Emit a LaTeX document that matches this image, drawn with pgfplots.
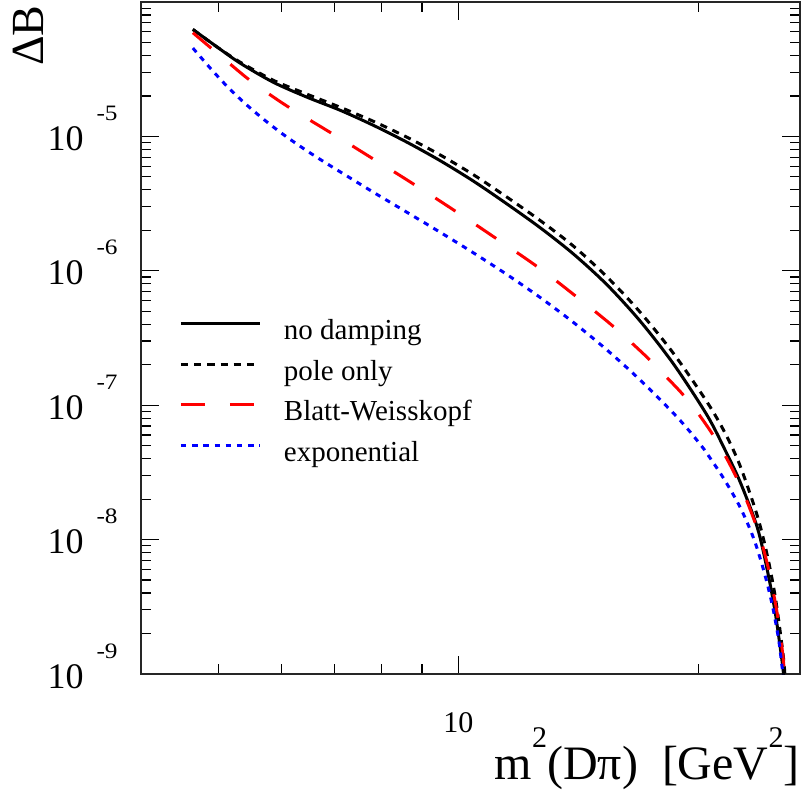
\documentclass[border=0pt]{standalone}
\usepackage{fontspec}
\setmainfont{Liberation Serif}
\usepackage{graphicx}
\usepackage{pgfplots}
\pgfplotsset{compat=1.18}
\newcommand{\yl}[1]{10\hspace{6.5pt}\raisebox{15pt}{\scalebox{1.15}[1]{\fontsize{11}{11}\selectfont #1}}}
\newcommand{\sq}{\raisebox{16pt}{\fontsize{15}{15}\selectfont 2}}
\begin{document}
\begin{tikzpicture}
\begin{axis}[
  scale only axis, width=329.5pt, height=336pt,
  xmode=log, ymode=log,
  xmin=4, xmax=26.8, ymin=1e-9, ymax=1e-4,
  axis line style={line width=1pt, black!85},
  tick align=inside,
  major tick length=9pt, minor tick length=5pt,
  every tick/.style={black, line width=0.6pt},
  xtick={10}, xticklabels={10},
  minor xtick={4,5,6,7,8,9,20},
  ytick={1e-9,1e-8,1e-7,1e-6,1e-5},
  yticklabels={\yl{-9},\yl{-8},\yl{-7},\yl{-6},\yl{-5}},
  minor ytick={2e-9,3e-9,4e-9,5e-9,6e-9,7e-9,8e-9,9e-9,
               2e-8,3e-8,4e-8,5e-8,6e-8,7e-8,8e-8,9e-8,
               2e-7,3e-7,4e-7,5e-7,6e-7,7e-7,8e-7,9e-7,
               2e-6,3e-6,4e-6,5e-6,6e-6,7e-6,8e-6,9e-6,
               2e-5,3e-5,4e-5,5e-5,6e-5,7e-5,8e-5,9e-5},
  xticklabel style={font=\fontsize{15}{15}\selectfont, anchor=base, inner sep=0pt, yshift=-29pt},
  yticklabel style={font=\fontsize{18}{18}\selectfont, anchor=base east, inner sep=0pt, xshift=-11.5pt, yshift=-7pt},
  xlabel={m\sq(Dπ)\hspace{0.5em}[GeV\sq]},
  xlabel style={at={(rel axis cs:1,-0.1577)}, anchor=base east, inner sep=0pt, font=\fontsize{24}{24}\selectfont},
  ylabel={ΔB},
  ylabel style={at={(rel axis cs:-0.148,0.9955)}, anchor=base east, inner sep=0pt, font=\fontsize{23}{23}\selectfont},
  legend style={at={(0.0577,0.5283)}, anchor=north west, draw=none, fill=none, inner sep=0pt,
    font=\fontsize{14.5}{14.5}\selectfont, row sep=7.35pt,
    nodes={inner sep=0pt, text height=10pt, text depth=3pt}},
  legend cell align=left,
  legend image code/.code={\draw[#1] (0pt,4.5pt) -- (39.5pt,4.5pt); \path[draw=none,fill=none] (51.5pt,4.5pt) circle (0pt);},
]
\addplot[black, line width=1.5pt, smooth, tension=0.5] coordinates {
(4.646,6.252e-5) (4.990,4.596e-5) (5.332,3.493e-5) (5.865,2.522e-5) (6.469,1.951e-5)
(7.115,1.561e-5) (7.824,1.209e-5) (8.623,9.04e-6) (9.494,6.58e-6) (10.45,4.634e-6)
(11.51,3.135e-6) (12.67,2.085e-6) (13.95,1.327e-6) (15.36,7.853e-7) (16.90,4.217e-7)
(18.61,2.021e-7) (20.49,8.44e-8) (21.60,4.609e-8) (22.56,2.665e-8) (23.69,1.233e-8)
(24.39,5.899e-9) (24.96,2.825e-9) (25.47,1.199e-9) (25.54,1e-9) (25.58,5e-10)};
\addlegendentry{no damping}
\addplot[black, line width=1.5pt, dash pattern=on 3.6pt off 3pt, smooth, tension=0.5] coordinates {
(4.646,6.252e-5) (4.990,4.596e-5) (5.332,3.553e-5) (5.865,2.610e-5) (6.469,2.054e-5)
(7.115,1.644e-5) (7.824,1.295e-5) (8.623,9.847e-6) (9.494,7.26e-6) (10.45,5.17e-6)
(11.51,3.523e-6) (12.67,2.359e-6) (13.95,1.519e-6) (15.36,8.993e-7) (16.90,4.911e-7)
(18.61,2.42e-7) (20.49,1.058e-7) (21.60,6.17e-8) (22.56,3.504e-8) (23.69,1.506e-8)
(24.39,7.59e-9) (24.96,3.714e-9) (25.47,1.55e-9) (25.65,1e-9) (25.70,5e-10)};
\addlegendentry{pole only}
\addplot[red, line width=1.5pt, dash pattern=on 12pt off 12.5pt, smooth, tension=0.5] coordinates {
(4.646,5.906e-5) (4.890,4.572e-5) (5.180,3.434e-5) (5.445,2.688e-5) (5.786,2.071e-5)
(6.119,1.658e-5) (6.538,1.304e-5) (6.913,1.067e-5) (7.372,8.455e-6) (7.794,6.883e-6)
(8.313,5.433e-6) (8.790,4.408e-6) (9.358,3.475e-6) (9.885,2.809e-6) (10.50,2.214e-6)
(11.10,1.772e-6) (11.81,1.382e-6) (12.49,1.097e-6) (13.23,8.512e-7) (13.95,6.651e-7)
(14.78,5.073e-7) (15.58,3.924e-7) (16.46,2.933e-7) (17.31,2.218e-7) (18.17,1.651e-7)
(19.06,1.224e-7) (19.91,8.916e-8) (20.73,6.327e-8) (21.50,4.417e-8) (22.23,3.030e-8)
(22.77,2.226e-8) (23.40,1.476e-8) (23.90,1.029e-8) (24.48,6.002e-9) (25.08,2.874e-9)
(25.52,1.352e-9) (25.63,1e-9) (25.68,5e-10)};
\addlegendentry{Blatt-Weisskopf}
\addplot[blue, line width=1.5pt, dash pattern=on 2.7pt off 2.9pt, smooth, tension=0.5] coordinates {
(4.646,4.541e-5) (4.890,3.201e-5) (5.131,2.350e-5) (5.409,1.745e-5) (5.703,1.336e-5)
(6.014,1.047e-5) (6.371,8.241e-6) (6.749,6.596e-6) (7.150,5.333e-6) (7.831,3.831e-6)
(8.623,2.720e-6) (9.494,1.930e-6) (10.45,1.356e-6) (11.51,9.354e-7) (12.67,6.309e-7)
(13.95,4.110e-7) (15.36,2.570e-7) (16.90,1.537e-7) (18.61,8.691e-8) (19.53,6.306e-8)
(20.20,4.911e-8) (20.49,4.372e-8) (21.50,2.853e-8) (22.56,1.730e-8) (23.44,1.024e-8)
(24.13,5.920e-9) (24.72,3.329e-9) (25.19,1.827e-9) (25.44,1.147e-9) (25.50,1e-9)
(25.55,5e-10)};
\addlegendentry{exponential}
\coordinate (SW) at (rel axis cs:0,0);
\coordinate (NE) at (rel axis cs:1,1);
\end{axis}
\pgfresetboundingbox
\path ([shift={(-70.5pt,-58pt)}]SW) rectangle ([shift={(1pt,1pt)}]NE);
\end{tikzpicture}
\end{document}
